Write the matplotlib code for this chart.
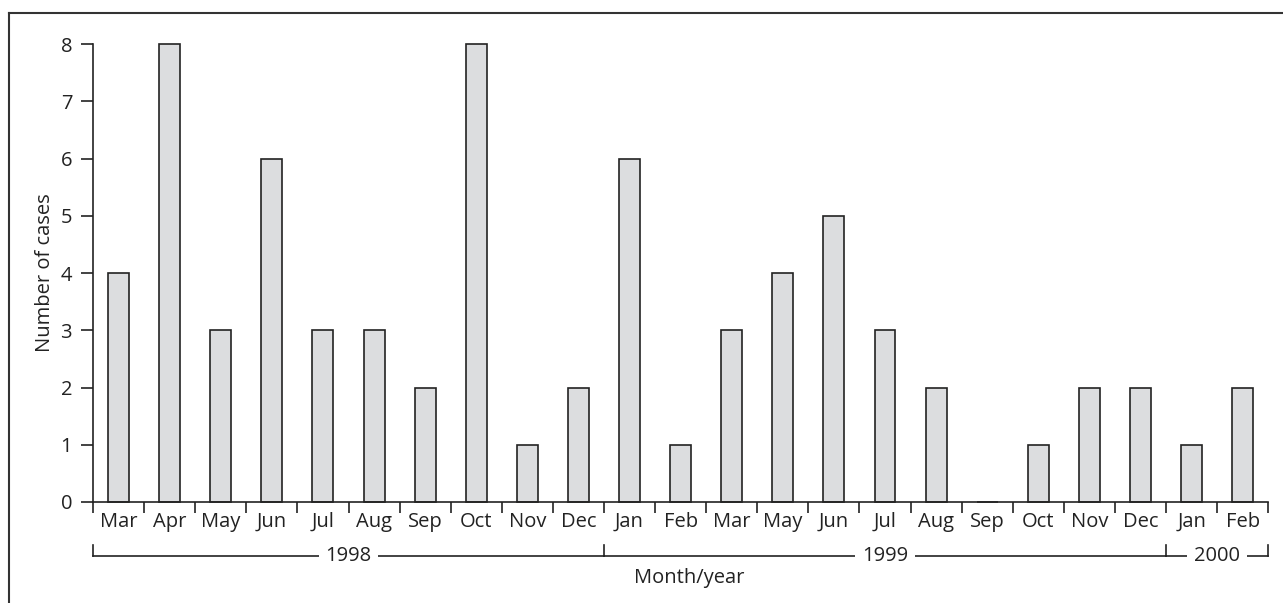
import matplotlib
matplotlib.use('Agg')
import matplotlib.pyplot as plt
from matplotlib.lines import Line2D
import matplotlib.transforms as mtransforms

plt.rcParams['font.family'] = ['Open Sans', 'DejaVu Sans']

# Data
months = ['Mar', 'Apr', 'May', 'Jun', 'Jul', 'Aug', 'Sep', 'Oct', 'Nov', 'Dec',
          'Jan', 'Feb', 'Mar', 'May', 'Jun', 'Jul', 'Aug', 'Sep', 'Oct', 'Nov', 'Dec',
          'Jan', 'Feb']
cases = [4, 8, 3, 6, 3, 3, 2, 8, 1, 2,
         6, 1, 3, 4, 5, 3, 2, 0, 1, 2, 2,
         1, 2]
years = ['1998', '1999', '2000']
year_counts = [10, 11, 2]

ink = '#222222'
fs = 14.5
fig = plt.figure(figsize=(12.83, 6.03), dpi=100)
ax = fig.add_axes([0.0725, 0.1675, 0.916, 0.7595])

x = list(range(len(months)))
bars = ax.bar(x, cases, width=0.41, color='#dcdddf', edgecolor=ink, linewidth=1.2)
for b in bars:
    b.set_clip_on(False)

ax.set_xlim(-0.5, len(months) - 0.5)
ax.set_ylim(0, 8)
ax.set_yticks(range(0, 9))

# boundary ticks (major) and month labels (minor)
ax.set_xticks([i - 0.5 for i in range(len(months) + 1)])
ax.set_xticklabels([])
ax.set_xticks(x, minor=True)
ax.set_xticklabels(months, minor=True)
ax.tick_params(axis='x', which='major', length=8, width=1.2, color=ink, direction='out')
ax.tick_params(axis='x', which='minor', length=0, pad=7, labelsize=fs, labelcolor=ink)
ax.tick_params(axis='y', length=9, width=1.2, color=ink, labelsize=fs, labelcolor=ink, pad=6)

for s in ['top', 'right']:
    ax.spines[s].set_visible(False)
for s in ['left', 'bottom']:
    ax.spines[s].set_color(ink)
    ax.spines[s].set_linewidth(1.2)

# year brackets under the month labels
trans = mtransforms.blended_transform_factory(ax.transData, ax.transAxes)
yb = -0.118
start = -0.5
for yr, n in zip(years, year_counts):
    end = start + n
    ax.add_line(Line2D([start, end], [yb, yb], transform=trans, color=ink, lw=1.2, clip_on=False))
    ax.add_line(Line2D([start, start], [yb, yb + 0.025], transform=trans, color=ink, lw=1.2, clip_on=False))
    ax.text((start + end) / 2, yb, yr, transform=trans, ha='center', va='center',
            fontsize=fs, color=ink,
            bbox=dict(facecolor='white', edgecolor='none', pad=5), zorder=5)
    start = end
ax.add_line(Line2D([start, start], [yb, yb + 0.025], transform=trans, color=ink, lw=1.2, clip_on=False))

fig.text(0.5375, 1 - 578 / 603, 'Month/year', ha='center', va='center', fontsize=fs, color=ink)
fig.text(45 / 1283, 1 - 273 / 603, 'Number of cases', ha='center', va='center',
         rotation=90, fontsize=fs, color=ink)

# outer frame (left and top edges)
fig.add_artist(Line2D([9 / 1283, 9 / 1283], [0, 1 - 13 / 603], transform=fig.transFigure, color='#333333', lw=1.5))
fig.add_artist(Line2D([9 / 1283, 1], [1 - 13 / 603, 1 - 13 / 603], transform=fig.transFigure, color='#333333', lw=1.5))

fig.savefig('out.png', dpi=100)
